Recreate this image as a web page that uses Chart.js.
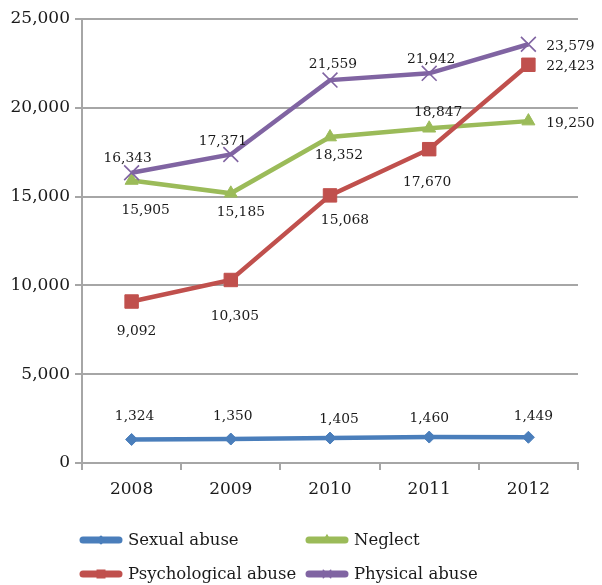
<!DOCTYPE html>
<html>
<head>
<meta charset="utf-8">
<script src="https://cdn.jsdelivr.net/npm/chart.js@4/dist/chart.umd.min.js"></script>
<style>
  html, body { margin: 0; padding: 0; background: #ffffff; }
  canvas { display: block; }
</style>
</head>
<body>
<canvas id="chart" width="602" height="585"></canvas>
<script>
// Reported cases by type of abuse, 2008-2012
const years = ['2008', '2009', '2010', '2011', '2012'];
const sexualAbuse        = [1324, 1350, 1405, 1460, 1449];
const psychologicalAbuse = [9092, 10305, 15068, 17670, 22423];
const neglect            = [15905, 15185, 18352, 18847, 19250];
const physicalAbuse      = [16343, 17371, 21559, 21942, 23579];
const yTickValues        = [0, 5000, 10000, 15000, 20000, 25000];

const FONT = "'DejaVu Serif', 'Liberation Serif', serif";
const GRID = '#a6a6a6';

// value-label placement relative to each point (dx, dy in px)
const labelOffsets = {
  'Sexual abuse':        [[3, -23], [2, -23], [9, -19], [0, -19], [5, -21]],
  'Psychological abuse': [[5, 30], [4, 36], [15, 25], [-2, 33], [42, 2]],
  'Neglect':             [[14, 30], [10, 19], [9, 18], [9, -16], [42, 2]],
  'Physical abuse':      [[-4, -14], [-8, -13], [3, -16], [2, -14], [42, 2]]
};

const fmt = v => v.toLocaleString('en-US');

const datasets = [
  { label: 'Sexual abuse', data: sexualAbuse, color: '#4a7ebb', pointStyle: 'rectRot', radius: 6, legendRadius: 4, order: 3 },
  { label: 'Psychological abuse', data: psychologicalAbuse, color: '#c0504d', pointStyle: 'rect', radius: 9.5, legendRadius: 5.5, order: 1 },
  { label: 'Neglect', data: neglect, color: '#9bbb59', pointStyle: 'triangle', radius: 7.5, legendRadius: 5, order: 2 },
  { label: 'Physical abuse', data: physicalAbuse, color: '#8064a2', pointStyle: 'crossRot', radius: 10.5, legendRadius: 6, order: 0 }
].map(d => ({
  label: d.label,
  data: d.data,
  order: d.order,
  borderColor: d.color,
  backgroundColor: d.color,
  borderWidth: 4.5,
  tension: 0,
  pointStyle: d.pointStyle,
  pointRadius: d.radius,
  pointHoverRadius: d.radius,
  pointBackgroundColor: d.color,
  pointBorderColor: d.color,
  pointBorderWidth: d.pointStyle === 'crossRot' ? 1.6 : 1,
  legendRadius: d.legendRadius
}));

// legend layout: two columns, filled row by row
const legendOrder = ['Sexual abuse', 'Neglect', 'Psychological abuse', 'Physical abuse'];

const valueLabels = {
  id: 'valueLabels',
  afterDatasetsDraw(chart) {
    const ctx = chart.ctx;
    ctx.save();
    ctx.font = '13.8px ' + FONT;
    ctx.fillStyle = '#1a1a1a';
    ctx.textAlign = 'center';
    ctx.textBaseline = 'middle';
    chart.data.datasets.forEach((ds, i) => {
      const meta = chart.getDatasetMeta(i);
      const offs = labelOffsets[ds.label];
      meta.data.forEach((pt, j) => {
        const [dx, dy] = offs[j];
        ctx.fillText(fmt(ds.data[j]), pt.x + dx, pt.y + dy);
      });
    });
    ctx.restore();
  }
};

const twoColumnLegend = {
  id: 'twoColumnLegend',
  afterDraw(chart) {
    const ctx = chart.ctx;
    const area = chart.chartArea;
    const colX = [area.left - 2, area.left + 224];
    const rowY = [area.bottom + 77, area.bottom + 111];
    ctx.save();
    legendOrder.forEach((name, k) => {
      const ds = chart.data.datasets.find(d => d.label === name);
      const x = colX[k % 2];
      const y = rowY[Math.floor(k / 2)];
      ctx.strokeStyle = ds.borderColor;
      ctx.lineWidth = 7;
      ctx.lineCap = 'round';
      ctx.beginPath();
      ctx.moveTo(x + 3, y);
      ctx.lineTo(x + 39, y);
      ctx.stroke();
      ctx.fillStyle = ds.borderColor;
      ctx.lineWidth = 1.2;
      ctx.lineCap = 'butt';
      Chart.helpers.drawPoint(ctx, {
        pointStyle: ds.pointStyle,
        radius: ds.legendRadius,
        rotation: 0,
        borderWidth: 1.2
      }, x + 21, y);
      ctx.fillStyle = '#1a1a1a';
      ctx.font = '16.5px ' + FONT;
      ctx.textAlign = 'left';
      ctx.textBaseline = 'middle';
      ctx.fillText(name, x + 48, y + 1);
    });
    ctx.restore();
  }
};

new Chart(document.getElementById('chart'), {
  type: 'line',
  data: { labels: years, datasets },
  options: {
    responsive: false,
    animation: false,
    events: [],
    layout: { padding: { top: 19, right: 24, bottom: 0, left: 0 } },
    plugins: {
      legend: { display: false },
      tooltip: { enabled: false },
      title: { display: false }
    },
    scales: {
      x: {
        offset: true,
        afterFit(scale) { scale.height = 122; },
        grid: {
          offset: true,
          drawOnChartArea: false,
          drawTicks: true,
          tickLength: 7,
          color: GRID,
          lineWidth: 2
        },
        border: { display: true, color: GRID, width: 2 },
        ticks: {
          color: '#1a1a1a',
          font: { family: FONT, size: 17 },
          padding: 9,
          maxRotation: 0
        }
      },
      y: {
        min: 0,
        max: 25000,
        afterFit(scale) { scale.width = 82; },
        afterBuildTicks(scale) { scale.ticks = yTickValues.map(v => ({ value: v })); },
        grid: {
          color: GRID,
          lineWidth: 2,
          drawTicks: true,
          tickLength: 7
        },
        border: { display: true, color: GRID, width: 2 },
        ticks: {
          color: '#1a1a1a',
          font: { family: FONT, size: 17 },
          padding: 5,
          callback: v => fmt(v)
        }
      }
    }
  },
  plugins: [valueLabels, twoColumnLegend]
});
</script>
</body>
</html>
